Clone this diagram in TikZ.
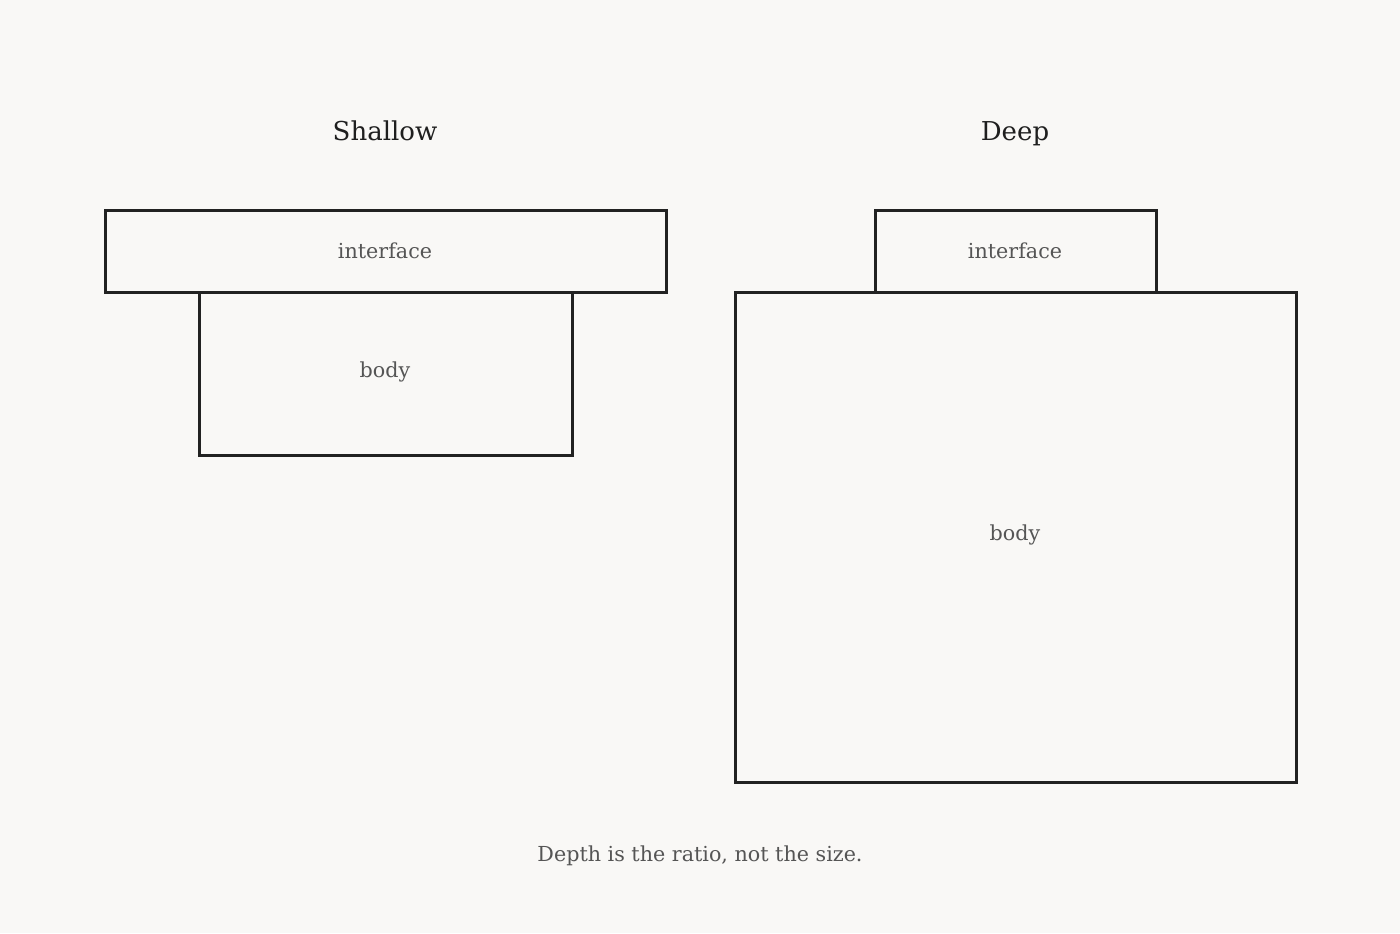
\documentclass[tikz,border=0pt]{standalone}
\usepackage{fontspec}
\setmainfont{DejaVu Serif}
\usepackage{xcolor}
\definecolor{Paper}{RGB}{249,248,246}
\definecolor{Ink}{RGB}{34,34,34}
\definecolor{Soft}{RGB}{85,85,85}
\usepackage{tikz}
\tikzstyle{Box}=[draw=Ink,line width=2.25pt,inner sep=0pt,outer sep=0pt,
anchor=north west,text=Soft,font=\fontsize{15}{18}\selectfont]
\tikzstyle{Title}=[text=Ink!90!black,anchor=base,font=\fontsize{19.5}{23}\selectfont]
\tikzstyle{Note}=[text=Soft,font=\fontsize{15.5}{18}\selectfont]

\begin{document}
\begin{tikzpicture}[x=0.75pt,y=-0.75pt]
        \fill[Paper](0,0)rectangle(1400,933);
        \useasboundingbox(0,0)rectangle(1400,933);
        \node[Title](ts)at(385,140){Shallow};
        \node[Title](td)at(1015,140){Deep};
        \node[Box,minimum width=561*0.75pt,minimum height=82*0.75pt](is)at(105,210){};
        \node[Box,minimum width=373*0.75pt,minimum height=163*0.75pt](bs)at(199,292){};
        \node[Box,minimum width=281*0.75pt,minimum height=82*0.75pt](id)at(875,210){};
        \node[Box,minimum width=561*0.75pt,minimum height=490*0.75pt](bd)at(735,292){};
        \node[Note]at(385,251){interface};
        \node[Note]at(385,372){body};
        \node[Note]at(1015,251){interface};
        \node[Note]at(1015,535){body};
        \node[Note](cap)at(700,856){Depth is the ratio, not the size.};
    \end{tikzpicture}
\end{document}
